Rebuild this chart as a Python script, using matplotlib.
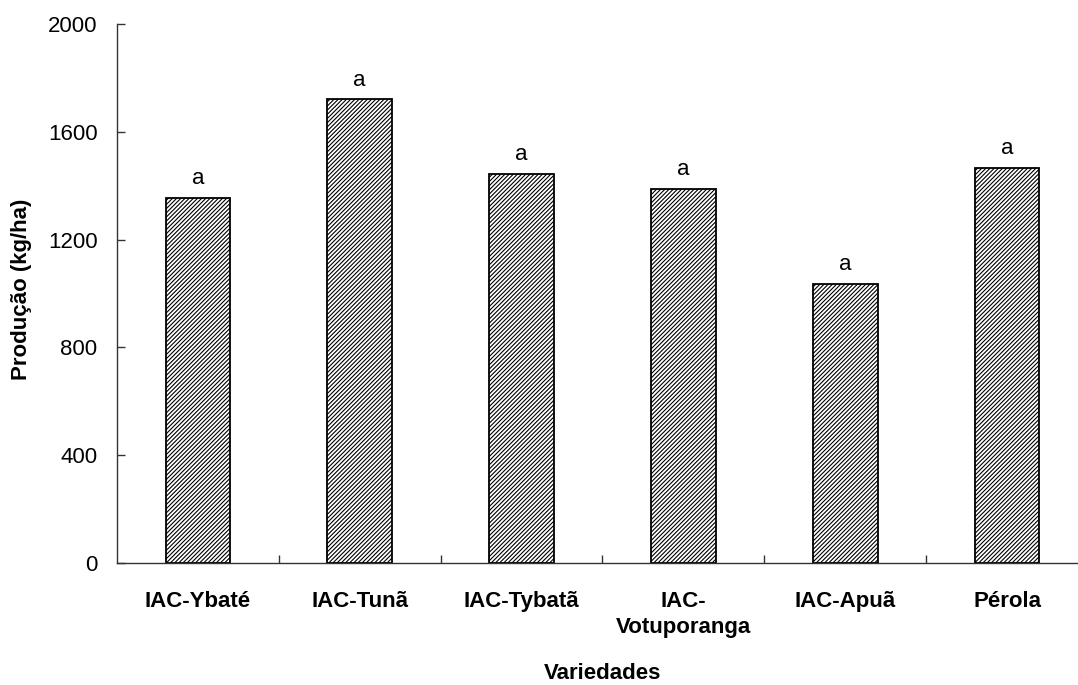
import matplotlib
matplotlib.use("Agg")
import matplotlib.pyplot as plt
import numpy as np

categories = ["IAC-Ybaté", "IAC-Tunã", "IAC-Tybatã", "IAC-\nVotuporanga", "IAC-Apuã", "Pérola"]
producao = [1355, 1720, 1443, 1387, 1034, 1467]
letras = ["a", "a", "a", "a", "a", "a"]
yticks = [0, 400, 800, 1200, 1600, 2000]

plt.rcParams['font.family'] = ['Liberation Sans', 'DejaVu Sans']
plt.rcParams['hatch.linewidth'] = 0.8

W, H = 1078, 685
fig = plt.figure(figsize=(W / 100, H / 100), dpi=100)
ax = fig.add_axes([117 / W, (H - 563) / H, 971 / W, (563 - 24) / H])

x = np.arange(len(categories))
bars = ax.bar(x, producao, width=0.4, color='white', edgecolor='black',
              linewidth=1.3, hatch='////////')

for xi, v, l in zip(x, producao, letras):
    ax.annotate(l, (xi, v), xytext=(0, 10), textcoords='offset points',
                ha='center', va='baseline', fontsize=16)

ax.set_xlim(-0.5, len(categories) - 0.5)
ax.set_ylim(0, 2000)
ax.set_yticks(yticks)
ax.set_yticklabels([str(t) for t in yticks], fontsize=16)
ax.set_xticks(x)
ax.set_xticklabels(categories, fontsize=16, fontweight='bold', linespacing=1.3)
ax.set_xticks(np.arange(0.5, len(categories), 1.0), minor=True)

ax.tick_params(axis='x', which='major', length=0, pad=20.5)
ax.tick_params(axis='x', which='minor', direction='in', length=6, width=1, color='#333333')
ax.tick_params(axis='y', direction='in', length=6, width=1, pad=14, color='#333333')

for s in ['top', 'right']:
    ax.spines[s].set_visible(False)
for s in ['left', 'bottom']:
    ax.spines[s].set_color('#333333')
    ax.spines[s].set_linewidth(1)

fig.text(22 / W, 1 - 289 / H, "Produção (kg/ha)", rotation=90, ha='center', va='center',
         fontsize=16, fontweight='bold')
fig.text(603 / W, 1 / H, "Variedades", ha='center', va='bottom',
         fontsize=16, fontweight='bold')

fig.savefig("out.png", dpi=100)
